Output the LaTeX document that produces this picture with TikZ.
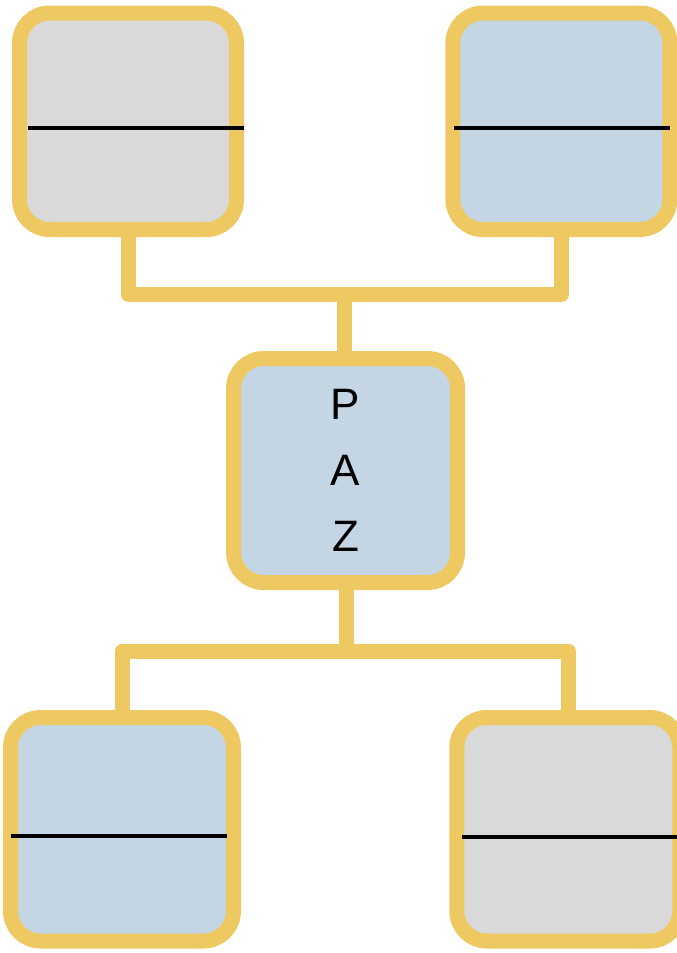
\documentclass[tikz,border=0pt]{standalone}
\usepackage{fontspec}
\setmainfont{Liberation Sans}
\usetikzlibrary{positioning}
\definecolor{pazgold}{RGB}{238,201,98}
\definecolor{pazgray}{RGB}{217,217,217}
\definecolor{pazblue}{RGB}{196,214,227}
\begin{document}
\begin{tikzpicture}[x=1pt, y=-1pt,
  box/.style={draw=pazgold, line width=15pt, rounded corners=30pt, minimum width=223pt, minimum height=223.5pt, inner sep=0pt},
  smallbox/.style={box, minimum width=217pt, minimum height=216.5pt},
  link/.style={draw=pazgold, line width=15pt, line join=round},
  divider/.style={draw=black, line width=4pt}]
\useasboundingbox (0,0) rectangle (677,953);

\node [smallbox, fill=pazgray] (tl) at (128,121.25) {};
\node [smallbox, fill=pazblue] (tr) at (561.4,121.25) {};
\node [box, fill=pazblue, minimum width=224pt, minimum height=224pt, align=center, font=\fontsize{44}{66}\selectfont] (mid) at (345.6,470.5) {P\\A\\Z};
\node [box, fill=pazblue] (bl) at (122,829.25) {};
\node [box, fill=pazgray] (br) at (568.3,829.25) {};

% links above and below PAZ
\coordinate (jtop) at (344.5,294);
\coordinate (jbot) at (346,651);
\draw [link] (tl.south) |- (jtop) -| (tr.south);
\draw [link] (jtop) -- (jtop |- mid.north);
\draw [link] (jbot |- mid.south) -- (jbot);
\draw [link] (bl.north) |- (jbot) -| (br.north);

% dividers
\draw [divider] ([shift={(16,6.75)}]tl.west) -- ([shift={(0,6.75)}]tl.east);
\draw [divider] ([shift={(8.3,6.75)}]tr.west) -- ([shift={(-7,6.75)}]tr.east);
\draw [divider] ([shift={(8,7)}]bl.west) -- ([shift={(-14,7)}]bl.east);
\draw [divider] ([shift={(13,7.5)}]br.west) -- ([shift={(-7,7.5)}]br.east);
\end{tikzpicture}
\end{document}
